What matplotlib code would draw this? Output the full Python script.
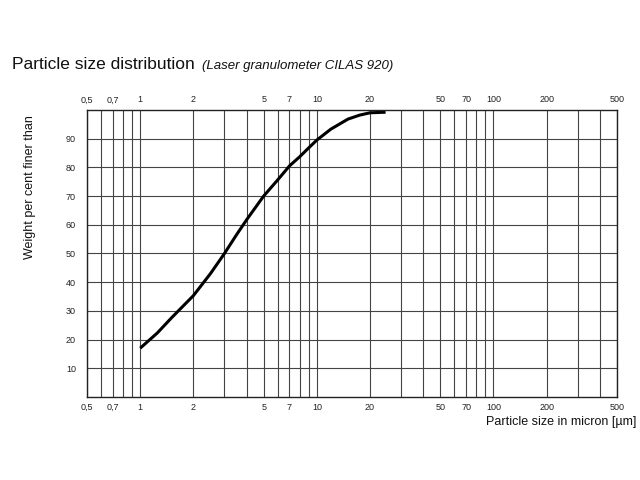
import numpy as np
import matplotlib.pyplot as plt

plt.rcParams['font.family'] = ['Liberation Sans', 'DejaVu Sans']

# grain size curve
size_um = [1, 1.25, 1.5, 2, 2.5, 3, 3.5, 4, 5, 6, 7, 8, 9, 10, 12, 15, 17.5, 20, 24.5]
finer_pct = [17, 22.3, 27.5, 35.3, 43, 50, 56.4, 61.7, 70, 75.6, 80.5, 83.7, 86.8,
             89.5, 93.3, 96.8, 98.2, 99, 99.2]

# grid positions and which of them carry a label
grid_x = [0.5, 0.6, 0.7, 0.8, 0.9, 1, 2, 3, 4, 5, 6, 7, 8, 9, 10,
          20, 30, 40, 50, 60, 70, 80, 90, 100, 200, 300, 400, 500]
labeled_x = [0.5, 0.7, 1, 2, 5, 7, 10, 20, 50, 70, 100, 200, 500]
grid_y = [10, 20, 30, 40, 50, 60, 70, 80, 90]


def fmt(v):
    s = ('%g' % v).replace('.', ',')
    return s


fig = plt.figure(figsize=(6.4, 4.8), dpi=100)
ax = fig.add_axes([0.136, 0.173, 0.828, 0.598])

ax.set_xscale('log')
ax.set_xlim(0.5, 500)
ax.set_ylim(0, 100)

ax.set_xticks(grid_x)
ax.set_xticklabels([fmt(v) if v in labeled_x else '' for v in grid_x])
ax.xaxis.set_minor_locator(plt.NullLocator())
ax.set_yticks(grid_y)
ax.set_yticklabels([str(v) for v in grid_y])

ax.grid(True, color='#444444', linewidth=0.8)
ax.tick_params(axis='both', length=0, labelsize=6.5, colors='#222222')
ax.tick_params(axis='x', top=True, labeltop=True, pad=4)
ax.tick_params(axis='y', pad=8)
for sp in ax.spines.values():
    sp.set_linewidth(1.0)
    sp.set_color('#222222')

ax.plot(size_um, finer_pct, color='black', linewidth=2.2,
        solid_capstyle='butt', solid_joinstyle='round')

fig.text(0.019, 0.865, 'Particle size distribution', fontsize=12.5, color='#111111',
         va='center', ha='left')
fig.text(0.316, 0.863, '(Laser granulometer CILAS 920)', fontsize=9.5, style='italic',
         color='#111111', va='center', ha='left')
fig.text(0.047, 0.61, 'Weight per cent finer than', fontsize=9, rotation=90,
         va='center', ha='center', color='#111111')
fig.text(0.994, 0.121, 'Particle size in micron [µm]', fontsize=9, ha='right',
         va='center', color='#111111')

fig.savefig('out.png', dpi=100)
